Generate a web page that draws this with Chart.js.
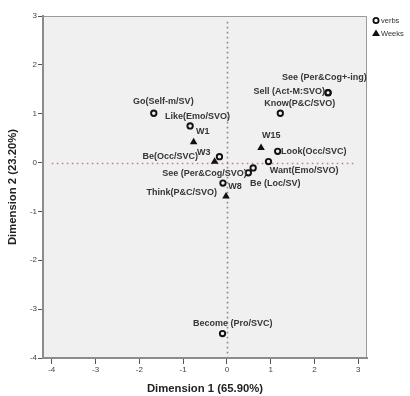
<!DOCTYPE html>
<html>
<head>
<meta charset="utf-8">
<script src="https://cdn.jsdelivr.net/npm/chart.js@4/dist/chart.umd.min.js"></script>
<style>
  html, body { margin: 0; padding: 0; background: #ffffff; }
  #wrap { width: 410px; height: 396px; position: relative; }
</style>
</head>
<body>
<div id="wrap"><canvas id="c" width="410" height="396"></canvas></div>
<script>
// ---- data ----
const verbNames = ['Go(Self-m/SV)', 'Like(Emo/SVO)', 'Be(Occ/SVC)', 'See (Per&Cog/SVO)', 'Be (Loc/SV)',
  'Think(P&C/SVO)', 'Want(Emo/SVO)', 'Look(Occ/SVC)', 'Know(P&C/SVO)', 'Sell (Act-M:SVO)',
  'See (Per&Cog+-ing)', 'Become (Pro/SVC)'];
const verbDim1 = [-1.67, -0.84, -0.17, 0.60, 0.49, -0.09, 0.95, 1.16, 1.22, 2.31, 2.31, -0.10];
const verbDim2 = [1.01, 0.75, 0.12, -0.11, -0.21, -0.42, 0.02, 0.23, 1.01, 1.43, 1.43, -3.50];
const weekNames = ['W1', 'W3', 'W8', 'W15'];
const weekDim1 = [-0.76, -0.28, -0.02, 0.78];
const weekDim2 = [0.42, 0.02, -0.69, 0.30];
const legendNames = ['verbs', 'Weeks'];
const axisTitleX = 'Dimension 1 (65.90%)';
const axisTitleY = 'Dimension 2 (23.20%)';

// ---- label placement (pixel offsets from the point) ----
const verbLabelOffsets = [[9.6, -11.3], [7.5, -9], [-49.3, 0.3], [-48.7, 5.7], [27, 10.2],
  [-41.2, 9.4], [35.7, 9.3], [36, 0.3], [19.5, -9.3], [-38.7, -0.7], [-3.7, -15.4], [10.2, -10]];
const weekLabelOffsets = [[9.2, -10.3], [-10.8, -8.7], [9, -9.7], [10.3, -12.3]];

const toPts = (xs, ys) => xs.map((x, i) => ({ x: x, y: ys[i] }));

const bgPlugin = {
  id: 'bg',
  beforeDraw(chart) {
    const { ctx, chartArea: a } = chart;
    ctx.save();
    ctx.fillStyle = '#f0f0f0';
    ctx.fillRect(a.left, a.top, a.right - a.left, a.bottom - a.top);
    ctx.strokeStyle = '#9a9a9a';
    ctx.lineWidth = 1;
    ctx.beginPath();
    ctx.moveTo(a.left, a.top + 0.5);
    ctx.lineTo(a.right - 0.5, a.top + 0.5);
    ctx.lineTo(a.right - 0.5, a.bottom);
    ctx.stroke();
    ctx.restore();
  },
  beforeDatasetsDraw(chart) {
    const { ctx, scales } = chart;
    const xs = scales.x, ys = scales.y;
    ctx.save();
    ctx.strokeStyle = '#8a8a8a';
    ctx.lineWidth = 1.6;
    ctx.setLineDash([1.6, 3.4]);
    ctx.beginPath();
    const x0 = Math.round(xs.getPixelForValue(0)) + 0.5;
    ctx.moveTo(x0, ys.getPixelForValue(2.88));
    ctx.lineTo(x0, ys.getPixelForValue(-3.98));
    ctx.stroke();
    ctx.strokeStyle = '#d27a7a';
    ctx.beginPath();
    const y0 = Math.round(ys.getPixelForValue(0)) + 0.5;
    ctx.moveTo(xs.getPixelForValue(-4), y0);
    ctx.lineTo(xs.getPixelForValue(2.9), y0);
    ctx.stroke();
    ctx.restore();
  },
  afterDatasetsDraw(chart) {
    const { ctx, chartArea: a } = chart;
    ctx.save();
    ctx.beginPath();
    ctx.rect(a.left, a.top, a.right - a.left, a.bottom - a.top);
    ctx.clip();
    ctx.font = 'bold 9px "Liberation Sans", Arial, sans-serif';
    ctx.fillStyle = '#363636';
    ctx.textAlign = 'center';
    ctx.textBaseline = 'middle';
    const draw = (dsIndex, names, offs) => {
      const meta = chart.getDatasetMeta(dsIndex);
      meta.data.forEach((el, i) => {
        ctx.fillText(names[i], el.x + offs[i][0], el.y + offs[i][1]);
      });
    };
    draw(0, verbNames, verbLabelOffsets);
    draw(1, weekNames, weekLabelOffsets);
    ctx.restore();

    // legend
    ctx.save();
    ctx.font = '7.5px "Liberation Sans", Arial, sans-serif';
    ctx.fillStyle = '#333333';
    ctx.textAlign = 'left';
    ctx.textBaseline = 'middle';
    ctx.strokeStyle = '#111';
    ctx.lineWidth = 1.8;
    ctx.beginPath();
    ctx.arc(376, 20.5, 2.6, 0, Math.PI * 2);
    ctx.stroke();
    ctx.fillText(legendNames[0], 381, 21);
    ctx.fillStyle = '#111';
    ctx.beginPath();
    ctx.moveTo(376, 29.5);
    ctx.lineTo(380, 36);
    ctx.lineTo(372, 36);
    ctx.closePath();
    ctx.fill();
    ctx.fillStyle = '#333333';
    ctx.fillText(legendNames[1], 381, 33.5);
    ctx.restore();
  }
};

const tickFont = { family: '"Liberation Sans", Arial, sans-serif', size: 8 };
const titleFont = { family: '"Liberation Sans", Arial, sans-serif', size: 11.3, weight: 'bold' };

new Chart(document.getElementById('c'), {
  type: 'scatter',
  data: {
    datasets: [
      {
        label: legendNames[0],
        data: toPts(verbDim1, verbDim2),
        pointStyle: 'circle',
        pointRadius: 2.7,
        pointBorderWidth: 1.9,
        borderColor: '#111111',
        backgroundColor: 'rgba(0,0,0,0)',
        pointHoverRadius: 2.7
      },
      {
        label: legendNames[1],
        data: toPts(weekDim1, weekDim2),
        pointStyle: 'triangle',
        pointRadius: 4.4,
        pointBorderWidth: 0,
        borderColor: '#111111',
        backgroundColor: '#111111'
      }
    ]
  },
  options: {
    responsive: false,
    animation: false,
    events: [],
    layout: { padding: { left: 0, top: 16, right: 43, bottom: 0 } },
    plugins: {
      legend: { display: false },
      tooltip: { enabled: false }
    },
    scales: {
      x: {
        type: 'linear',
        min: -4.2,
        max: 3.2,
        afterFit(s) { s.height = 38; },
        ticks: { stepSize: 1, includeBounds: false, font: tickFont, color: '#444', padding: 1, maxRotation: 0 },
        grid: { drawOnChartArea: false, drawTicks: true, tickLength: 6, color: '#555', lineWidth: 1 },
        border: { display: true, color: '#8c8c8c', width: 2 },
        title: { display: true, text: axisTitleX, font: titleFont, color: '#222', padding: { top: 0, bottom: 0 } }
      },
      y: {
        type: 'linear',
        min: -4,
        max: 3,
        afterFit(s) { s.width = 43; },
        ticks: { stepSize: 1, includeBounds: false, font: tickFont, color: '#444', padding: 1 },
        grid: { drawOnChartArea: false, drawTicks: true, tickLength: 5, color: '#555', lineWidth: 1 },
        border: { display: true, color: '#8c8c8c', width: 2 },
        title: { display: true, text: axisTitleY, font: titleFont, color: '#222', padding: { top: 6.4, bottom: 0 } }
      }
    }
  },
  plugins: [bgPlugin]
});
</script>
</body>
</html>
